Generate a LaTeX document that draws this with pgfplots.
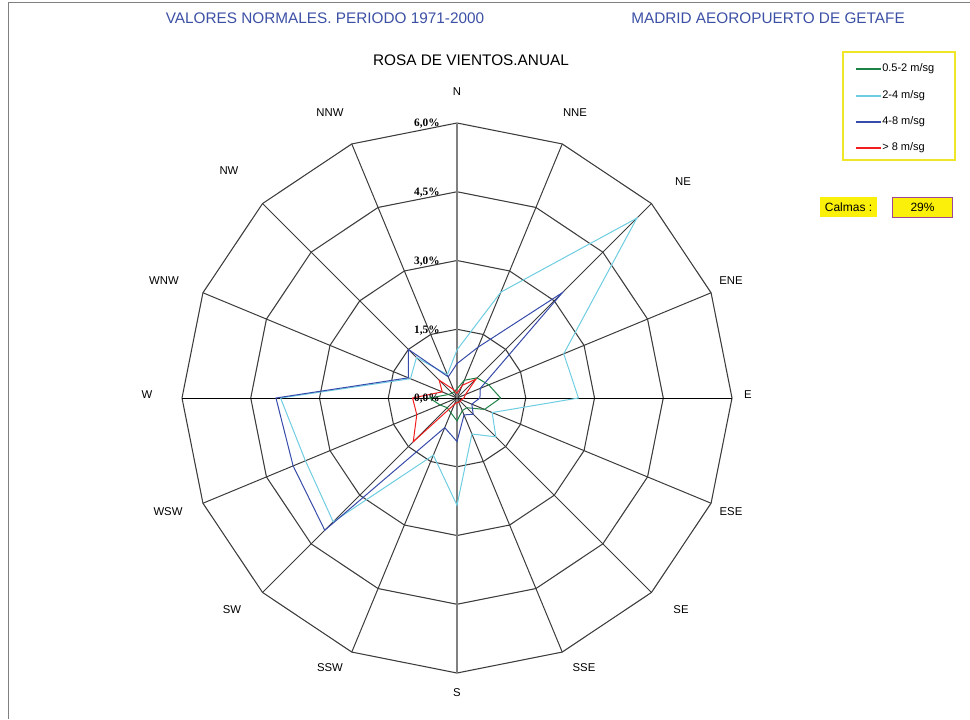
\documentclass[border=0pt]{standalone}
\usepackage{pgfplots}
\pgfplotsset{compat=1.18}
\usepackage{pgfplotstable}
\usepackage{fontspec}
\setmainfont{Liberation Sans}
\newfontfamily\serifb{Liberation Serif}

\definecolor{hdrblue}{RGB}{60,80,165}
\definecolor{sgreen}{RGB}{30,130,70}
\definecolor{scyan}{RGB}{110,205,225}
\definecolor{sblue}{RGB}{55,75,170}
\definecolor{sred}{RGB}{240,30,30}
\definecolor{gridc}{RGB}{60,60,60}
\definecolor{lgyellow}{RGB}{240,230,40}
\definecolor{calmyel}{RGB}{250,240,10}
\definecolor{calmbord}{RGB}{160,70,150}

% b = bearing (deg from north), values in %
\pgfplotstableread{
b     green cyan blue red
0     0.20  1.05 0.75 0.10
22.5  0.42  2.50 1.20 0.30
45    0.62  5.55 3.25 0.58
67.5  0.75  2.52 0.55 0.20
90    0.95  2.65 0.50 0.15
112.5 0.65  0.83 0.35 0.10
135   0.30  1.20 0.50 0.10
157.5 0.30  0.85 0.40 0.10
180   0.50  2.34 0.95 0.10
202.5 0.35  1.35 0.70 0.15
225   0.30  3.82 4.08 1.35
247.5 0.40  3.58 3.87 0.95
270   0.60  3.85 3.95 0.97
292.5 0.20  1.10 1.15 0.35
315   0.15  1.25 1.50 0.55
337.5 0.15  0.55 0.50 0.20
360   0.20  1.05 0.75 0.10
}\wind

\begin{document}
\begin{tikzpicture}[x=0.75pt,y=0.75pt]
\path[use as bounding box] (0,0) rectangle (970,719);
\draw[gray, line width=0.75pt] (8,0) -- (8,716) -- (970,716);

% polygonal grid
\begin{scope}[shift={(457,321)}]
  \foreach \r in {68.75,137.5,206.25,275}{
    \draw[gridc, line width=0.8pt] (0:\r) \foreach \a in {22.5,45,...,337.5}{ -- (\a:\r)} -- cycle;
  }
  \foreach \a in {0,22.5,...,337.5} \draw[gridc, line width=0.75pt] (0,0) -- (\a:275);
  \draw[gray, line width=1.5pt] (0,-275) -- (0,275);
  \draw[black, line width=0.75pt] (-275,0) -- (275,0);
\end{scope}

\begin{axis}[
    at={(342.75pt,240.75pt)}, anchor=origin,
    scale only axis, width=412.5pt, height=412.5pt,
    xmin=-6, xmax=6, ymin=-6, ymax=6,
    hide axis, clip=false,
]
\addplot[color=sgreen, line width=0.75pt] table[x expr={\thisrow{green}*sin(\thisrow{b})}, y expr={\thisrow{green}*cos(\thisrow{b})}] {\wind};
\addplot[color=scyan, line width=0.75pt] table[x expr={\thisrow{cyan}*sin(\thisrow{b})}, y expr={\thisrow{cyan}*cos(\thisrow{b})}] {\wind};
\addplot[color=sblue, line width=0.75pt] table[x expr={\thisrow{blue}*sin(\thisrow{b})}, y expr={\thisrow{blue}*cos(\thisrow{b})}] {\wind};
\addplot[color=sred, line width=0.75pt] table[x expr={\thisrow{red}*sin(\thisrow{b})}, y expr={\thisrow{red}*cos(\thisrow{b})}] {\wind};
\end{axis}

% ring labels
\begin{scope}[every node/.style={anchor=east, inner sep=0pt, font=\serifb\bfseries\fontsize{8.5}{9}\selectfont}]
  \node at (440,320) {0,0\%};
  \node at (440,388.5) {1,5\%};
  \node at (440,457.5) {3,0\%};
  \node at (440,526) {4,5\%};
  \node at (440,595) {6,0\%};
\end{scope}

% direction labels
\foreach \x/\y/\t in {457/92/N, 575/113/NNE, 683/182/NE, 731/281/ENE, 748/395/E,
    731/512/ESE, 681/610/SE, 584/668/SSE, 457/693/S, 330/668/SSW, 232/610/SW,
    168/512/WSW, 147/395/W, 164/281/WNW, 229/171/NW, 330/113/NNW}
  \node[font=\fontsize{8.5}{10}\selectfont, inner sep=0pt] at (\x,{719-\y}) {\t};

% legend
\draw[lgyellow, line width=1pt] (843,667) rectangle (955,559);
\foreach \y/\c/\t in {69/sgreen/{0.5-2 m/sg}, 96/scyan/{2-4 m/sg}, 122/sblue/{4-8 m/sg}, 148/sred/{> 8 m/sg}}{
  \draw[\c, line width=0.9pt] (856,{719-\y}) -- (881,{719-\y});
  \node[anchor=west, inner sep=0pt, font=\fontsize{8.25}{9}\selectfont] at (882,{719-\y}) {\t};
}

% titles
\node[font=\fontsize{11.5}{13}\selectfont, text=hdrblue] at (325,701) {VALORES NORMALES. PERIODO 1971-2000};
\node[font=\fontsize{11.5}{13}\selectfont, text=hdrblue] at (768,701) {MADRID AEOROPUERTO DE GETAFE};
\node[font=\fontsize{11.5}{13}\selectfont] at (471,659) {ROSA DE VIENTOS.ANUAL};

% calmas
\node[fill=calmyel, minimum width=42.75pt, minimum height=15pt, inner sep=0pt,
      font=\fontsize{9}{10}\selectfont] at (848.5,512) {Calmas :};
\node[fill=calmyel, draw=calmbord, line width=0.6pt, minimum width=44.7pt, minimum height=15pt, inner sep=0pt,
      font=\fontsize{9}{10}\selectfont] at (922.5,512) {29\%};
\end{tikzpicture}
\end{document}
